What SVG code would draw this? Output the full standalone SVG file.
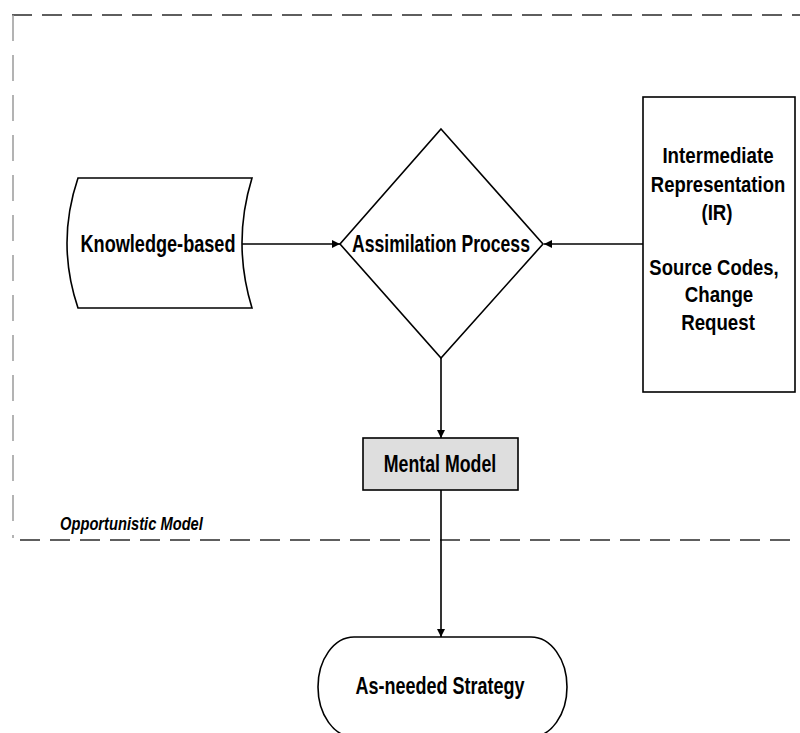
<svg xmlns="http://www.w3.org/2000/svg" width="800" height="733" viewBox="0 0 800 733">
  <style>
    .shape { fill: #ffffff; stroke: #000000; stroke-width: 1.6; }
    .label { font-family: "Liberation Sans", Arial, sans-serif; font-weight: bold; font-size: 24px; fill: #000000; text-anchor: middle; }
    .small { font-size: 22px; }
    .frame { fill: none; stroke: #2a2a2a; stroke-width: 1.5; stroke-dasharray: 20 10; }
    .frame-side { fill: none; stroke: #9a9a9a; stroke-width: 1.5; stroke-dasharray: 26 14; }
    .conn { fill: none; stroke: #000000; stroke-width: 1.6; }
  </style>
  <defs>
    <marker id="arrow" viewBox="0 0 10 10" refX="10" refY="5" markerWidth="8" markerHeight="8" markerUnits="userSpaceOnUse" orient="auto">
      <path d="M0,0 L10,5 L0,10 z" fill="#000000"/>
    </marker>
  </defs>
  <rect width="800" height="733" fill="#ffffff"/>

  <!-- boundary of the opportunistic model region -->
  <g id="region">
    <line class="frame" x1="12" y1="15" x2="800" y2="15"/>
    <line class="frame-side" x1="13" y1="15" x2="13" y2="538"/>
    <line class="frame" x1="20" y1="540" x2="800" y2="540"/>
    <text transform="translate(60,530) scale(0.84,1)" font-family="'Liberation Sans', Arial, sans-serif" font-weight="bold" font-style="italic" font-size="17.5">Opportunistic Model</text>
  </g>

  <!-- connectors -->
  <g id="connectors">
    <line class="conn" x1="241" y1="244" x2="340" y2="244" stroke-width="2.4" marker-end="url(#arrow)"/>
    <line class="conn" x1="643" y1="244" x2="544" y2="244" marker-end="url(#arrow)"/>
    <line class="conn" x1="441" y1="358" x2="441" y2="438" marker-end="url(#arrow)"/>
    <line class="conn" x1="441" y1="490" x2="441" y2="637" stroke-width="2" marker-end="url(#arrow)"/>
  </g>

  <g id="knowledge-based">
    <path class="shape" d="M78,178 L252,178 Q232,243 252,308 L78,308 Q56,243 78,178 z"/>
    <text class="label" transform="translate(158,252) scale(0.755,1)">Knowledge-based</text>
  </g>

  <g id="assimilation-process">
    <polygon class="shape" points="441,129 543,244 441,358 340,244"/>
    <text class="label" transform="translate(441,252) scale(0.733,1)">Assimilation Process</text>
  </g>

  <g id="intermediate-representation">
    <rect class="shape" x="643" y="97" width="152" height="295"/>
    <text class="label small" transform="translate(718,163) scale(0.85,1)">Intermediate</text>
    <text class="label small" transform="translate(718,192) scale(0.84,1)">Representation</text>
    <text class="label small" transform="translate(717,220) scale(0.85,1)">(IR)</text>
    <text class="label small" transform="translate(714,275) scale(0.84,1)">Source Codes,</text>
    <text class="label small" transform="translate(719,302) scale(0.85,1)">Change</text>
    <text class="label small" transform="translate(718,330) scale(0.85,1)">Request</text>
  </g>

  <g id="mental-model">
    <rect x="363" y="438" width="155" height="52" fill="#dedede" stroke="#000000" stroke-width="1.6"/>
    <text class="label" transform="translate(440,472) scale(0.74,1)">Mental Model</text>
  </g>

  <g id="as-needed-strategy">
    <rect class="shape" x="318" y="637" width="249" height="100" rx="36" ry="50"/>
    <text class="label" transform="translate(440,694) scale(0.75,1)">As-needed Strategy</text>
  </g>
</svg>
